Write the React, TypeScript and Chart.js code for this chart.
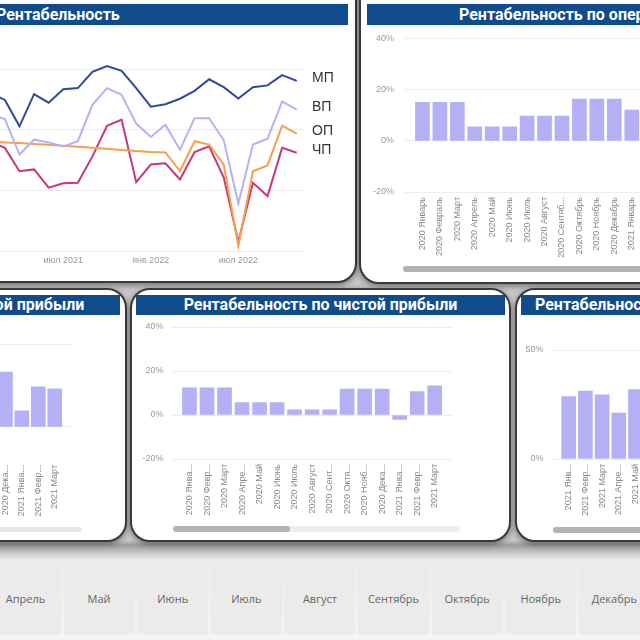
import React, { useEffect, useRef } from 'react';
import { Chart, registerables } from 'chart.js';

Chart.register(...registerables);

// ---------- DATA ----------
const LINE_MONTHS = [
  'фев 2021', 'мар 2021', 'апр 2021', 'май 2021', 'июн 2021', 'июл 2021', 'авг 2021', 'сен 2021',
  'окт 2021', 'ноя 2021', 'дек 2021', 'янв 2022', 'фев 2022', 'мар 2022', 'апр 2022', 'май 2022',
  'июн 2022', 'июл 2022', 'авг 2022', 'сен 2022', 'окт 2022', 'ноя 2022',
];
const LINE_TICKS = ['июл 2021', 'янв 2022', 'июл 2022'];
const SERIES_NAMES = ['МП', 'ВП', 'ОП', 'ЧП'];
const MP = [32, 29.8, 21.1, 31.7, 28.9, 33.3, 33.7, 39.1, 41, 39.4, 33.7, 27.6, 28.4, 30.2, 32.8, 36.6, 34, 30.3, 34, 34.6, 38, 36.1];
const VP = [25, 23.5, 11.8, 16.7, 15.8, 14.5, 16.2, 28.2, 33.7, 31.5, 22, 17.6, 21.6, 13.4, 23.8, 23.8, 16.5, -4.3, 15.1, 17, 29.3, 26.6];
const OP = [16.1, 15.8, 15.6, 15.3, 15.0, 14.7, 14.4, 14.0, 13.7, 13.3, 13.0, 12.6, 12.5, 6.3, 16.2, 15.1, 8.5, -18.3, 6.3, 8.2, 21.3, 18.7];
const CHP = [16, 14, 6.3, 6.9, 0.9, 2.3, 2.5, 11.2, 21.3, 23.3, 2.7, 8.5, 8.9, 3.6, 12.6, 14.5, 4.2, -17, 2.5, -1.9, 14, 12.4];
const LINE_COLORS = ['#2f4a9b', '#b6b1f4', '#f6a04c', '#c8377f'];

const OPER_CATS = ['2020 Январь', '2020 Февраль', '2020 Март', '2020 Апрель', '2020 Май', '2020 Июнь', '2020 Июль', '2020 Август', '2020 Сентяб...', '2020 Октябрь', '2020 Ноябрь', '2020 Декабрь', '2021 Январь'];
const OPER_VALUES = [15, 15, 15, 5.5, 5.5, 5.5, 9.7, 9.7, 9.7, 16.3, 16.3, 16.3, 12];

const GROSS_CATS = ['2020 Дека...', '2021 Янва...', '2021 Февр...', '2021 Март'];
const GROSS_VALUES = [33.1, 9.6, 24.1, 22.9];

const NET_CATS = ['2020 Янва...', '2020 Февр...', '2020 Март', '2020 Апре...', '2020 Май', '2020 Июнь', '2020 Июль', '2020 Август', '2020 Сент...', '2020 Октя...', '2020 Нояб...', '2020 Дека...', '2021 Янва...', '2021 Февр...', '2021 Март'];
const NET_VALUES = [12.4, 12.4, 12.4, 5.6, 5.6, 5.6, 2.3, 2.3, 2.3, 11.8, 11.8, 11.8, -2.0, 10.6, 13.3];

const MARG_CATS = ['2021 Янв...', '2021 Февр...', '2021 Март', '2021 Апре...', '2021 Май'];
const MARG_VALUES = [28.6, 31.2, 29.4, 21.1, 31.8];

const TITLES = [
  'Рентабельность',
  'Рентабельность по операционной прибыли',
  'Рентабельность по валовой прибыли',
  'Рентабельность по чистой прибыли',
  'Рентабельность по маржинальной прибыли',
];
const MONTHS = ['Апрель', 'Май', 'Июнь', 'Июль', 'Август', 'Сентябрь', 'Октябрь', 'Ноябрь', 'Декабрь'];

// ---------- STYLE ----------
const BAR_COLOR = '#b5aff6';
const GRID = '#ececec';
const TICK_FONT = { size: 9, family: '"Liberation Sans", Arial, sans-serif' };
const TITLE_BG = '#104c8c';

const endLabels = {
  id: 'endLabels',
  afterDatasetsDraw(chart: any) {
    const ctx = chart.ctx;
    ctx.save();
    ctx.font = '14px "Liberation Sans", Arial, sans-serif';
    ctx.fillStyle = '#333';
    ctx.textBaseline = 'middle';
    chart.data.datasets.forEach((ds: any, i: number) => {
      const meta = chart.getDatasetMeta(i);
      const pt = meta.data[meta.data.length - 1];
      if (pt) ctx.fillText(ds.label, chart.chartArea.right + 8, pt.y - 2.5);
    });
    ctx.restore();
  },
};

function LineChart() {
  const ref = useRef<HTMLCanvasElement>(null);
  const plotW = 321, plotH = 182, padR = 50, xH = 20;
  const W = plotW + padR, H = 8 + plotH + xH;
  useEffect(() => {
    const series = [MP, VP, OP, CHP];
    const chart = new Chart(ref.current!, {
      type: 'line',
      data: {
        labels: LINE_MONTHS,
        datasets: series.map((s, i) => ({
          label: SERIES_NAMES[i],
          data: s,
          borderColor: LINE_COLORS[i],
          backgroundColor: LINE_COLORS[i],
          borderWidth: 2,
          pointRadius: 0,
          tension: 0,
          clip: false as any,
        })),
      },
      options: {
        animation: false,
        responsive: false,
        maintainAspectRatio: false,
        layout: { padding: { top: 8, right: padR, left: 0, bottom: 0 } },
        plugins: { legend: { display: false }, tooltip: { enabled: false } },
        scales: {
          x: {
            offset: true,
            grid: { display: false, drawTicks: false },
            border: { display: false },
            ticks: {
              autoSkip: false, maxRotation: 0, minRotation: 0, padding: 4, color: '#999', font: TICK_FONT,
              callback: (_v: any, i: number) => (LINE_TICKS.includes(LINE_MONTHS[i]) ? LINE_MONTHS[i] : ''),
            },
            afterFit: (s: any) => { s.height = xH; },
          },
          y: {
            min: -20, max: 40,
            ticks: { stepSize: 20, display: false },
            grid: { color: GRID, drawTicks: false },
            border: { display: false },
            afterFit: (s: any) => { s.width = 0; },
          },
        },
      },
      plugins: [endLabels],
    } as any);
    return () => chart.destroy();
  }, []);
  return (
    <canvas ref={ref} width={W} height={H}
      style={{ position: 'absolute', left: -17, top: 61, width: W, height: H }} />
  );
}

type BarProps = {
  cats: string[]; values: number[];
  plotLeft: number; plotTop: number; plotW: number; plotH: number;
  min: number; max: number; step: number; keep?: number[]; yPad: number; showY: boolean;
};

function BarChart(p: BarProps) {
  const ref = useRef<HTMLCanvasElement>(null);
  const yW = 40, xH = 70, padR = 8;
  // when y tick labels are shown, Chart.js reserves half a label height + tick padding at the top
  const padT = p.showY ? Math.round(5.4 + p.yPad) : 8;
  const W = Math.round(yW + p.plotW + padR);
  const H = Math.round(padT + p.plotH + xH);
  useEffect(() => {
    const chart = new Chart(ref.current!, {
      type: 'bar',
      data: {
        labels: ['', ...p.cats, ''],
        datasets: [{ data: [null, ...p.values, null], backgroundColor: BAR_COLOR, barThickness: 14 }],
      },
      options: {
        animation: false,
        responsive: false,
        maintainAspectRatio: false,
        layout: { padding: { top: p.showY ? 0 : padT, right: padR, left: 0, bottom: 0 } },
        plugins: { legend: { display: false }, tooltip: { enabled: false } },
        scales: {
          x: {
            offset: false,
            grid: { display: false, drawTicks: false },
            border: { display: false },
            ticks: { autoSkip: false, minRotation: 90, maxRotation: 90, padding: 5, color: '#8a8a8a', font: TICK_FONT },
            afterFit: (s: any) => { s.height = xH; },
          },
          y: {
            min: p.min, max: p.max,
            ticks: { stepSize: p.step, display: p.showY, padding: p.yPad, color: '#9a9a9a', font: TICK_FONT, callback: (v: any) => v + '%' },
            grid: { color: GRID, drawTicks: false },
            border: { display: false },
            afterFit: (s: any) => { s.width = yW; },
            afterBuildTicks: (s: any) => {
              if (p.keep) s.ticks = s.ticks.filter((t: any) => p.keep!.includes(t.value));
            },
          },
        },
      },
    } as any);
    return () => chart.destroy();
  }, []);
  return (
    <canvas ref={ref} width={W} height={H}
      style={{ position: 'absolute', left: Math.round(p.plotLeft - yW), top: Math.round(p.plotTop - padT), width: W, height: H }} />
  );
}

const panel = (l: number, t: number, w: number, h: number): React.CSSProperties => ({
  position: 'absolute', left: l, top: t, width: w, height: h, background: '#fff',
  border: '2px solid #3a3a3a', borderRadius: 20, boxSizing: 'border-box',
  boxShadow: '0 2px 6px rgba(0,0,0,0.45)',
});

const titleBar = (l: number, t: number, w: number, h: number, extra: React.CSSProperties): React.CSSProperties => ({
  position: 'absolute', left: l, top: t, width: w, height: h, background: TITLE_BG, color: '#fff',
  fontFamily: 'Roboto, "Open Sans", sans-serif', fontWeight: 700, fontSize: 16, lineHeight: h + 'px',
  whiteSpace: 'nowrap', boxSizing: 'border-box', overflow: 'hidden', ...extra,
});

const bar = (l: number, t: number, w: number, h: number, c: string): React.CSSProperties => ({
  position: 'absolute', left: l, top: t, width: w, height: h, background: c, borderRadius: 3,
});

export default function App() {
  return (
    <div style={{
      position: 'fixed', left: 0, top: 0, width: 640, height: 640, overflow: 'hidden',
      background: 'linear-gradient(#c9c9c9 0px, #c9c9c9 540px, #9c9c9c 545px, #ececec 560px, #f4f4f4 640px)',
    }}>
      {/* panels */}
      <div style={panel(-40, -30, 397, 313)} />
      <div style={panel(359, -30, 500, 314)} />
      <div style={panel(-200, 288, 327, 254)} />
      <div style={panel(130, 288, 381, 254)} />
      <div style={panel(515, 288, 400, 254)} />

      {/* titles */}
      <div style={titleBar(-20, 4, 368, 21, { paddingLeft: 16 })}>{TITLES[0]}</div>
      <div style={titleBar(367, 4, 500, 21, { paddingLeft: 92 })}>{TITLES[1]}</div>
      <div style={titleBar(-200, 295, 320, 20, { paddingRight: 37, textAlign: 'right' })}>{TITLES[2]}</div>
      <div style={titleBar(136, 295, 369, 20, { textAlign: 'center' })}>{TITLES[3]}</div>
      <div style={titleBar(521, 295, 300, 20, { paddingLeft: 14 })}>{TITLES[4]}</div>

      {/* charts */}
      <LineChart />
      <BarChart cats={OPER_CATS} values={OPER_VALUES} plotLeft={405} plotTop={38} plotW={252} plotH={154}
        min={-20} max={40} step={20} yPad={11} showY={true} />
      <BarChart cats={GROSS_CATS} values={GROSS_VALUES} plotLeft={-11} plotTop={344} plotW={90} plotH={116}
        min={-20} max={50} step={10} keep={[0, 50]} yPad={8} showY={false} />
      <BarChart cats={NET_CATS} values={NET_VALUES} plotLeft={172} plotTop={327} plotW={288} plotH={132}
        min={-20} max={40} step={20} yPad={8.6} showY={true} />
      <BarChart cats={MARG_CATS} values={MARG_VALUES} plotLeft={552} plotTop={350} plotW={108} plotH={109}
        min={0} max={50} step={50} yPad={8.6} showY={true} />

      {/* scrollbars */}
      <div style={bar(403, 266, 300, 6, '#b3b3b3')} />
      <div style={bar(-100, 527, 182, 5, '#e8e8e8')} />
      <div style={bar(173, 526, 287, 6, '#eeeeee')} />
      <div style={bar(173, 526, 117, 6, '#b3b3b3')} />
      <div style={bar(553, 527, 200, 6, '#b3b3b3')} />

      {/* month slicer */}
      {MONTHS.map((m, i) => (
        <div key={m} style={{
          position: 'absolute', left: -10 + 73.6 * i, top: 563, width: 71, height: 71, background: '#ebebeb',
          display: 'flex', alignItems: 'center', justifyContent: 'center',
          fontFamily: '"Open Sans", sans-serif', fontSize: 11, color: '#666',
        }}>{m}</div>
      ))}
    </div>
  );
}
